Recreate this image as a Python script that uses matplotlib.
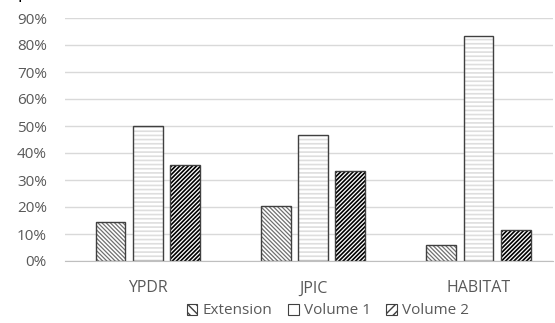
import matplotlib
matplotlib.use("Agg")
import matplotlib.pyplot as plt
import numpy as np
from matplotlib.patches import Patch

categories = ["YPDR", "JPIC", "HABITAT"]
series_names = ["Extension", "Volume 1", "Volume 2"]
extension = [0.143, 0.202, 0.058]
volume1 = [0.50, 0.465, 0.832]
volume2 = [0.355, 0.335, 0.113]
yticks = [0, 0.1, 0.2, 0.3, 0.4, 0.5, 0.6, 0.7, 0.8, 0.9]

plt.rcParams['font.family'] = ['Open Sans', 'DejaVu Sans']

W, H = 555, 323
fig = plt.figure(figsize=(W / 100, H / 100), dpi=100)
ax = fig.add_axes([65 / W, 1 - 261 / H, (553 - 65) / W, (261 - 18) / H])

x = np.arange(len(categories))
bw = 0.18
step = 0.225
styles = [
    dict(hatch="\\" * 8, color="#707070", lw=0.9),
    dict(hatch="----", color="#dedede", lw=1.2),
    dict(hatch="/" * 8, color="#000000", lw=1.2),
]
legend_hatches = ["\\\\\\\\", "", "////"]
data = [extension, volume1, volume2]
for i, (vals, st) in enumerate(zip(data, styles)):
    pos = x + (i - 1) * step
    with plt.rc_context({'hatch.linewidth': st['lw'], 'hatch.color': st['color']}):
        ax.bar(pos, vals, width=bw, color="white", edgecolor=st['color'],
               hatch=st['hatch'], linewidth=0, zorder=2)
    ax.bar(pos, vals, width=bw, fill=False, edgecolor="#404040",
           linewidth=1.0, zorder=3)

ax.set_xlim(-0.5, 2.45)
ax.set_ylim(0, 0.9)
ax.set_yticks(yticks)
ax.set_yticklabels([f"{int(round(t * 100))}%" for t in yticks])
ax.set_xticks(x)
ax.set_xticklabels(categories)
ax.tick_params(axis='both', length=0, labelsize=11, colors="#595959")
ax.tick_params(axis='x', labelsize=11.5)
ax.tick_params(axis='y', pad=13)
ax.tick_params(axis='x', pad=14)
ax.yaxis.grid(True, color="#d9d9d9", linewidth=1.0, zorder=0)
ax.set_axisbelow(True)
for s in ["top", "right", "left"]:
    ax.spines[s].set_visible(False)
ax.spines["bottom"].set_color("#bfbfbf")
ax.spines["bottom"].set_zorder(4)

handles = []
for name, st, lh in zip(series_names, styles, legend_hatches):
    with plt.rc_context({'hatch.linewidth': st['lw'], 'hatch.color': st['color']}):
        p = Patch(facecolor="white", edgecolor="#404040", hatch=lh,
                  label=name, linewidth=0.8)
    handles.append(p)
leg = fig.legend(handles=handles, loc="center", bbox_to_anchor=(328 / W, 1 - 311 / H),
                 ncol=3, frameon=False, fontsize=11, handlelength=0.7,
                 handleheight=0.7, handletextpad=0.35, columnspacing=1.0,
                 borderpad=0.1)
for t in leg.get_texts():
    t.set_color("#595959")

fig.text(18 / W, 1 + 2 / H, "pared to those in Habitat.", fontsize=13,
         color="black", va="baseline", ha="left")

fig.savefig("out.png", dpi=100)
